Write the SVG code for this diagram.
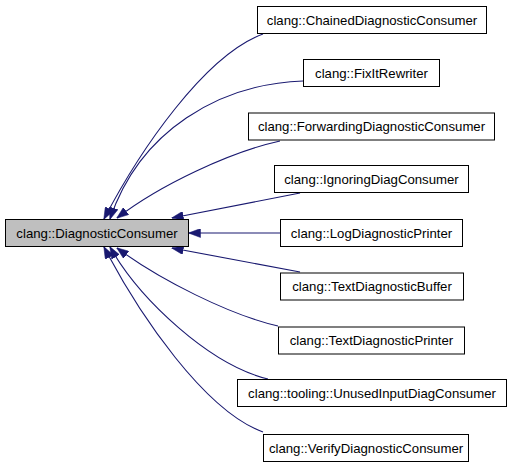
<svg xmlns="http://www.w3.org/2000/svg" width="512" height="467" viewBox="0 0 512 467">
<style>
.n rect{fill:#ffffff;stroke:#000000;stroke-width:1}
#main rect{fill:#bfbfbf}
.n text{font-family:"Liberation Sans",Arial,sans-serif;font-size:13.2px;fill:#000000;text-anchor:middle}
.e path{fill:none;stroke:#191970;stroke-width:1.1;marker-end:url(#ah)}
</style>
<defs>
<marker id="ah" viewBox="0 0 12 9" refX="11.5" refY="4.5" markerWidth="12" markerHeight="9" markerUnits="userSpaceOnUse" orient="auto">
<path d="M0,0 L12,4.5 L0,9 z" fill="#191970" stroke="#191970" stroke-width="0.5"/>
</marker>
</defs>
<rect width="512" height="467" fill="#ffffff"/>
<g id="edges" class="e">
<path d="M263,34 C205,55 140,150 104,219"/>
<path d="M303,81 C220,84 140,130 110,219"/>
<path d="M280,141 C230,152 160,185 117,218"/>
<path d="M300,193 L172,218"/>
<path d="M280,233 L189,233"/>
<path d="M300,272 L172,248"/>
<path d="M278,326 C230,315 160,280 117,248"/>
<path d="M268,379 C210,365 140,300 110,247"/>
<path d="M263,432 C205,411 140,316 104,247"/>
</g>
<g id="main" class="n"><rect x="5.5" y="219.5" width="183" height="27"/><text x="97" y="237.5">clang::DiagnosticConsumer</text></g>
<g id="chained" class="n"><rect x="257.5" y="6.5" width="229" height="27"/><text x="372" y="24.5">clang::ChainedDiagnosticConsumer</text></g>
<g id="fixit" class="n"><rect x="303.5" y="59.5" width="136" height="27"/><text x="371.5" y="77.5">clang::FixItRewriter</text></g>
<g id="forwarding" class="n"><rect x="248.5" y="113" width="246" height="27"/><text x="371.5" y="131">clang::ForwardingDiagnosticConsumer</text></g>
<g id="ignoring" class="n"><rect x="274.5" y="165.5" width="194" height="27"/><text x="371.5" y="183.5">clang::IgnoringDiagConsumer</text></g>
<g id="log" class="n"><rect x="280.5" y="219.5" width="182" height="27"/><text x="371.5" y="237.5">clang::LogDiagnosticPrinter</text></g>
<g id="textbuffer" class="n"><rect x="280.5" y="273" width="183" height="27"/><text x="372" y="291">clang::TextDiagnosticBuffer</text></g>
<g id="textprinter" class="n"><rect x="278.5" y="327" width="186" height="27"/><text x="371.5" y="345">clang::TextDiagnosticPrinter</text></g>
<g id="unused" class="n"><rect x="237.5" y="379.5" width="269" height="27"/><text x="372" y="397.5">clang::tooling::UnusedInputDiagConsumer</text></g>
<g id="verify" class="n"><rect x="263.5" y="434.5" width="205" height="27"/><text x="366" y="452.5">clang::VerifyDiagnosticConsumer</text></g>
</svg>
